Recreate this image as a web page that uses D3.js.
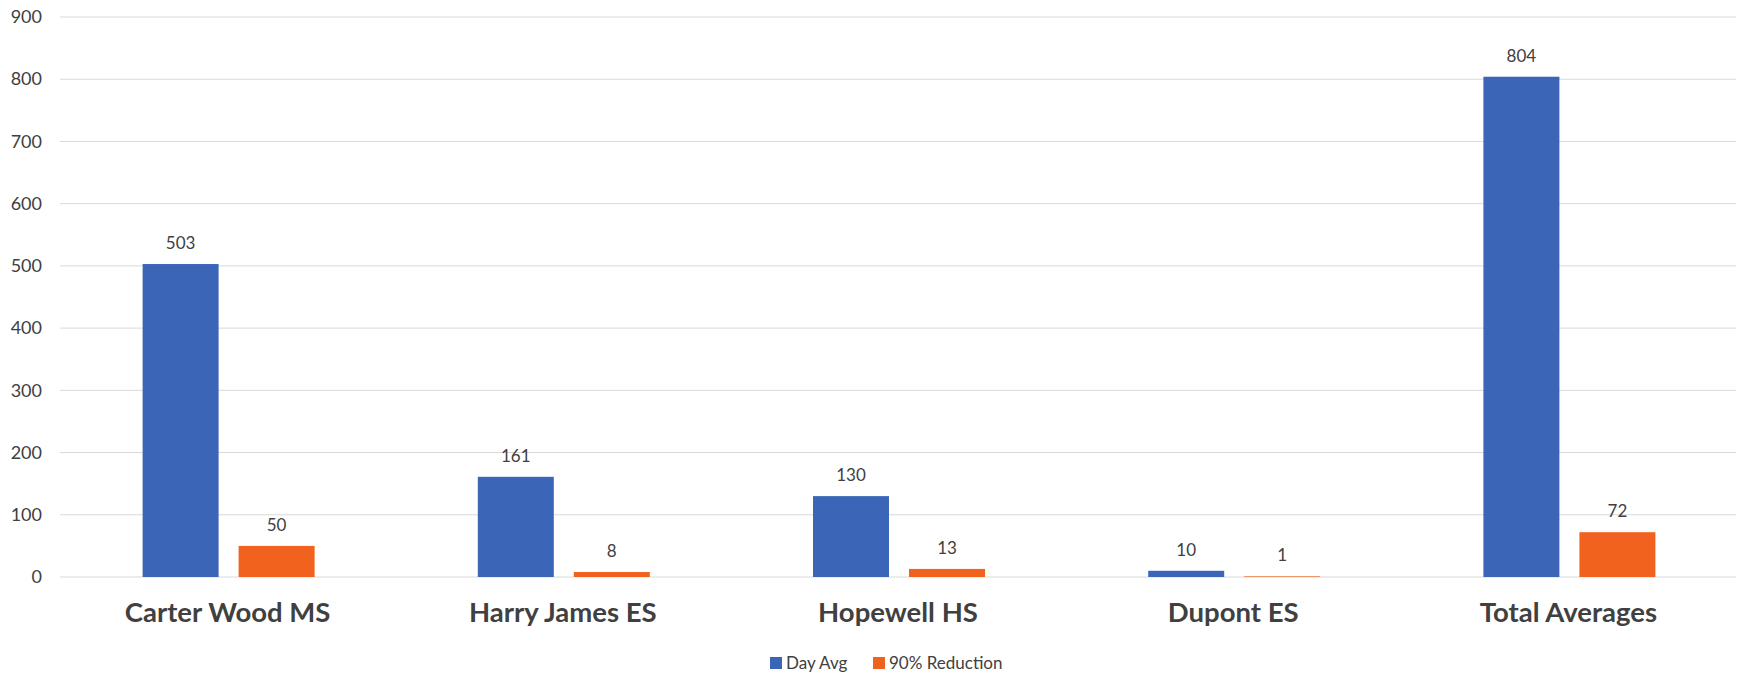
<!DOCTYPE html>
<html lang="en">
<head>
<meta charset="UTF-8">
<title>Day Avg vs 90% Reduction</title>
<script src="https://d3js.org/d3.v7.min.js"></script>
<style>
  body { margin: 0; background: #fff; }
  text { font-family: Lato, "Open Sans", sans-serif; fill: #404040; }
</style>
</head>
<body>
<div id="chart"></div>
<script>
    var categories = ["Carter Wood MS", "Harry James ES", "Hopewell HS", "Dupont ES", "Total Averages"];
    var dayAvg = [503, 161, 130, 10, 804];
    var reduction = [50, 8, 13, 1, 72];
    var seriesNames = ["Day Avg", "90% Reduction"];
    var seriesColors = ["#3b66b8", "#f2621f"];
    var yTicks = [0, 100, 200, 300, 400, 500, 600, 700, 800, 900];

    var w = 1739, h = 675;
    var plotLeft = 60, plotRight = 1736, plotTop = 17, plotBottom = 577;

    var svg = d3.select("#chart").append("svg")
        .attr("width", w).attr("height", h);

    var x = d3.scaleBand().domain(categories).range([plotLeft, plotRight]);
    var y = d3.scaleLinear().domain([0, 900]).range([plotBottom, plotTop]);

    // gridlines
    svg.append("g").selectAll("line")
        .data(yTicks).enter().append("line")
        .attr("x1", plotLeft).attr("x2", plotRight)
        .attr("y1", function(d) { return y(d); })
        .attr("y2", function(d) { return y(d); })
        .attr("stroke", "#d9d9d9").attr("stroke-width", 1);

    // y axis labels
    var yAxis = d3.axisLeft(y).tickValues(yTicks).tickSize(0).tickPadding(0);
    var yg = svg.append("g").attr("transform", "translate(42,0)").call(yAxis);
    yg.select(".domain").remove();
    yg.selectAll("text").style("font-size", "18px").attr("fill", "#404040");

    // x axis labels
    var xAxis = d3.axisBottom(x).tickSize(0).tickPadding(0);
    var xg = svg.append("g").attr("transform", "translate(0,602)").call(xAxis);
    xg.select(".domain").remove();
    xg.selectAll("text").style("font-size", "27.5px").style("font-weight", "bold").attr("fill", "#404040");

    var barW = 76;
    var offsets = [-47, 49];
    var series = [dayAvg, reduction];

    series.forEach(function(vals, s) {
        var g = svg.append("g");
        g.selectAll("rect").data(vals).enter().append("rect")
            .attr("x", function(d, i) { return x(categories[i]) + x.bandwidth() / 2 + offsets[s] - barW / 2; })
            .attr("y", function(d) { return y(d); })
            .attr("width", barW)
            .attr("height", function(d) { return plotBottom - y(d); })
            .attr("fill", seriesColors[s]);
        g.selectAll("text").data(vals).enter().append("text")
            .attr("x", function(d, i) { return x(categories[i]) + x.bandwidth() / 2 + offsets[s]; })
            .attr("y", function(d) { return y(d) - 15; })
            .attr("text-anchor", "middle")
            .style("font-size", "17px")
            .text(function(d) { return d; });
    });

    // legend
    var legend = svg.append("g").attr("transform", "translate(770,663)");
    var legX = [0, 103];
    seriesNames.forEach(function(name, i) {
        legend.append("rect").attr("x", legX[i]).attr("y", -6).attr("width", 12).attr("height", 12)
            .attr("fill", seriesColors[i]);
        legend.append("text").attr("x", legX[i] + 16).attr("y", 6)
            .style("font-size", "17px").text(name);
    });
</script>
</body>
</html>
